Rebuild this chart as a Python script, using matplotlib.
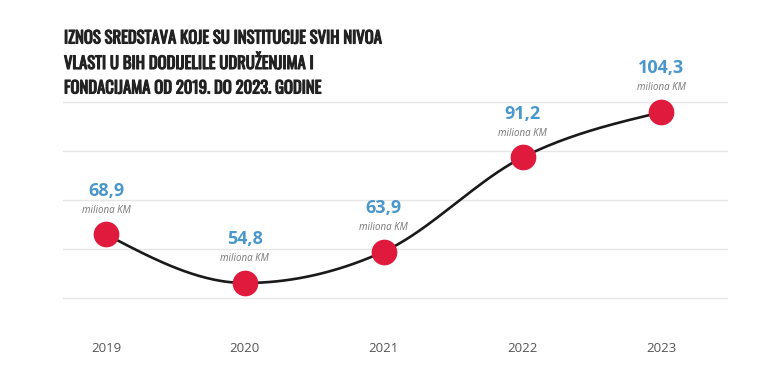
import numpy as np
import matplotlib
matplotlib.use("Agg")
import matplotlib.pyplot as plt
import matplotlib.patheffects as pe

years = [2019, 2020, 2021, 2022, 2023]
values = [68.9, 54.8, 63.9, 91.2, 104.3]
value_labels = ["68,9", "54,8", "63,9", "91,2", "104,3"]
unit_label = "miliona KM"
title_lines = ["IZNOS SREDSTAVA KOJE SU INSTITUCIJE SVIH NIVOA",
               "VLASTI U BIH DODIJELILE UDRUŽENJIMA I",
               "FONDACIJAMA OD 2019. DO 2023. GODINE"]


def monotone_curve(x, y, n=40):
    x = np.asarray(x, float); y = np.asarray(y, float)
    h = np.diff(x); d = np.diff(y) / h
    m = np.zeros_like(y)
    for i in range(1, len(y) - 1):
        if d[i - 1] * d[i] <= 0:
            m[i] = 0
        else:
            p = (d[i - 1] * h[i] + d[i] * h[i - 1]) / (h[i - 1] + h[i])
            m[i] = np.sign(d[i]) * min(abs(p), 2 * min(abs(d[i - 1]), abs(d[i])))
    m[0] = (3 * d[0] - m[1]) / 2
    m[-1] = (3 * d[-1] - m[-2]) / 2
    xs, ys = [], []
    for i in range(len(h)):
        t = np.linspace(0, 1, n)
        h00 = 2 * t**3 - 3 * t**2 + 1
        h10 = t**3 - 2 * t**2 + t
        h01 = -2 * t**3 + 3 * t**2
        h11 = t**3 - t**2
        xs.append(x[i] + t * h[i])
        ys.append(h00 * y[i] + h10 * h[i] * m[i] + h01 * y[i + 1] + h11 * h[i] * m[i + 1])
    return np.concatenate(xs), np.concatenate(ys)


fig = plt.figure(figsize=(7.68, 3.76), dpi=100)
fig.patch.set_facecolor("white")
ax = fig.add_axes([63 / 768, 1 - 300 / 376, (728 - 63) / 768, (300 - 100) / 376])
ax.set_xlim(2018.69, 2023.48)
ax.set_ylim(49.87, 107.84)
ax.set_yticks(np.linspace(50.45, 107.26, 5))
ax.set_yticklabels([])
ax.tick_params(axis="y", length=0)
ax.grid(axis="y", color="#e6e6e6", linewidth=1)
for s in ax.spines.values():
    s.set_visible(False)
ax.set_xticks(years)
ax.set_xticklabels([str(y) for y in years], fontsize=9.5, color="#555555", family=["Open Sans", "DejaVu Sans"])
ax.tick_params(axis="x", length=0, pad=30)

cx, cy = monotone_curve(years, values)
ax.plot(cx, cy, color="#1a1a1a", linewidth=1.9, zorder=3, solid_capstyle="round")
ax.plot(years, values, "o", color="#e01a3d", markersize=18.5, markeredgewidth=0, zorder=4, clip_on=False)

for x, v, lab in zip(years, values, value_labels):
    ax.annotate(lab, (x, v), xytext=(0, 31.5), textcoords="offset points", ha="center", va="center",
                fontsize=13, fontweight="bold", color="#4a97cc", family=["Open Sans", "DejaVu Sans"],
                annotation_clip=False)
    ax.annotate(unit_label, (x, v), xytext=(0, 17.5), textcoords="offset points", ha="center", va="center",
                fontsize=7, fontstyle="italic", color="#777777", family=["Open Sans", "DejaVu Sans"],
                annotation_clip=False)

for i, line in enumerate(title_lines):
    fig.text(64 / 768, 1 - (38 + 25 * i) / 376, line, ha="left", va="center", fontsize=12,
             fontweight="bold", color="#222222",
             family=["Oswald", "IBM Plex Sans Condensed", "DejaVu Sans"],
             path_effects=[pe.withStroke(linewidth=0.8, foreground="#222222")])

fig.savefig("out.png", dpi=100, facecolor="white")
